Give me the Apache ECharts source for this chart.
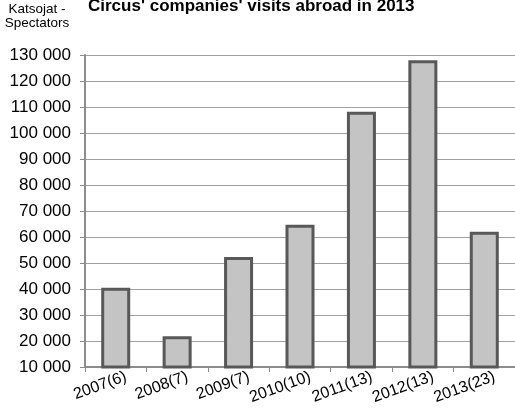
<!DOCTYPE html>
<html>
<head>
<meta charset="utf-8">
<script src="https://cdn.jsdelivr.net/npm/echarts@6/dist/echarts.min.js"></script>
<style>
  html, body { margin: 0; padding: 0; background: #fff; }
  #main { width: 515px; height: 414px; }
</style>
</head>
<body>
<div id="main"></div>
<script>
var chartDom = document.getElementById('main');
var myChart = echarts.init(chartDom, null);
var option;

// data
var years = ['2007(6)', '2008(7)', '2009(7)', '2010(10)', '2011(13)', '2012(13)', '2013(23)'];
var spectators = [40500, 21800, 52300, 64700, 108200, 128000, 62000];

option = {
  backgroundColor: '#ffffff',
  textStyle: {
    fontFamily: 'Liberation Sans, Arial, sans-serif'
  },
  title: {
    text: "Circus' companies' visits abroad in 2013",
    left: 88,
    top: -2,
    padding: 0,
    textStyle: {
      fontSize: 17,
      fontWeight: 'bold',
      color: '#000'
    }
  },
  grid: {
    left: 85,
    top: 55,
    width: 437,
    height: 312
  },
  xAxis: {
    type: 'category',
    data: years,
    axisLine: { lineStyle: { color: '#8c8c8c', width: 2 } },
    axisTick: { show: true, length: 5, lineStyle: { color: '#8c8c8c' } },
    axisLabel: {
      rotate: 20,
      fontSize: 16,
      color: '#000',
      margin: 13,
      padding: [0, -11, 0, 0]
    }
  },
  yAxis: {
    type: 'value',
    min: 10000,
    max: 130000,
    interval: 10000,
    name: 'Katsojat -\nSpectators',
    nameLocation: 'end',
    nameGap: 25,
    nameTextStyle: {
      fontSize: 13.5,
      color: '#000',
      align: 'center',
      padding: [0, 0, 0, -96],
      lineHeight: 14
    },
    axisLine: { show: true, lineStyle: { color: '#8c8c8c', width: 2 } },
    axisTick: { show: true, length: 5, lineStyle: { color: '#8c8c8c' } },
    axisLabel: {
      fontSize: 17,
      color: '#000',
      margin: 14,
      formatter: function (v) {
        return String(v).replace(/\B(?=(\d{3})+(?!\d))/g, ' ');
      }
    },
    splitLine: { lineStyle: { color: '#a0a0a0', width: 1 } }
  },
  series: [{
    type: 'bar',
    data: spectators,
    barWidth: 29,
    itemStyle: {
      color: '#c4c4c4',
      borderColor: '#585858',
      borderWidth: 3
    }
  }]
};

myChart.setOption(option);
</script>
</body>
</html>
